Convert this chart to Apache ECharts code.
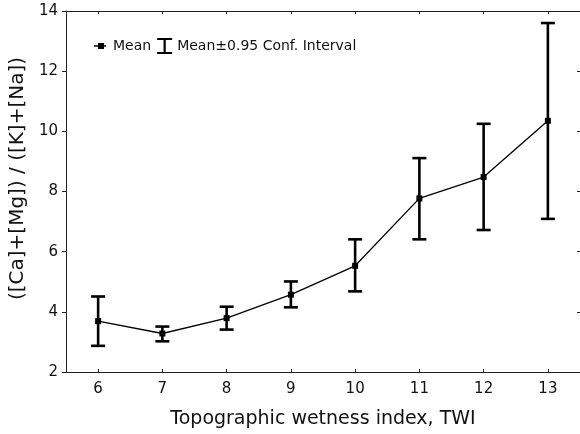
<!DOCTYPE html>
<html>
<head>
<meta charset="utf-8">
<script src="https://cdn.jsdelivr.net/npm/echarts@6/dist/echarts.min.js"></script>
<style>html,body{margin:0;padding:0;background:#fff;}#c{width:580px;height:434px;}</style>
</head>
<body>
<div id="c"></div>
<script>
const categories = ['6', '7', '8', '9', '10', '11', '12', '13'];
const meanValues = [3.69, 3.28, 3.79, 4.57, 5.53, 7.77, 8.48, 10.35];
const upperValues = [4.51, 3.51, 4.17, 5.01, 6.41, 9.11, 10.25, 13.60];
const lowerValues = [2.87, 3.02, 3.41, 4.15, 4.68, 6.41, 6.72, 7.09];
const yTicks = { min: 2, max: 14, interval: 2 };
const meanName = 'Mean';
const ciName = 'Mean±0.95 Conf. Interval';
const xTitle = 'Topographic wetness index, TWI';
const yTitle = '([Ca]+[Mg]) / ([K]+[Na])';

const FONT = 'DejaVu Sans';
const errData = categories.map((c, i) => [i, lowerValues[i], upperValues[i]]);

const chart = echarts.init(document.getElementById('c'), null, { renderer: 'canvas' });
chart.setOption({
  animation: false,
  backgroundColor: '#fff',
  grid: { left: 66, top: 11, width: 515, height: 364, containLabel: false },
  legend: {
    left: 88, top: 33,
    itemWidth: 15, itemHeight: 16, itemGap: 6,
    textStyle: { fontFamily: FONT, fontSize: 14, color: '#111' },
    itemStyle: { color: '#000', borderWidth: 0 },
    lineStyle: { width: 0 },
    data: [
      { name: meanName, icon: 'path://M0,0M15,16M1,7.3H5V5H11V11H5V8.7H1ZM11,7.3H13V8.7H11Z' },
      { name: ciName, icon: 'path://M0,0H15V2H8.6V14H15V16H0V14H6.4V2H0Z' }
    ]
  },
  xAxis: [{
    type: 'category', data: categories, position: 'bottom',
    boundaryGap: true,
    axisLine: { show: true, lineStyle: { color: '#222', width: 1 } },
    axisTick: { show: true, inside: true, length: 3, alignWithLabel: true, lineStyle: { color: '#222' } },
    axisLabel: { fontFamily: FONT, fontSize: 15, color: '#111', margin: 10 },
    splitLine: { show: false },
    name: xTitle, nameLocation: 'middle', nameGap: 38,
    nameTextStyle: { fontFamily: FONT, fontSize: 19, color: '#111' }
  }, {
    type: 'category', data: categories, position: 'top',
    boundaryGap: true,
    axisLine: { show: true, lineStyle: { color: '#222', width: 1 } },
    axisTick: { show: true, inside: true, length: 3, alignWithLabel: true, lineStyle: { color: '#222' } },
    axisLabel: { show: false }, splitLine: { show: false }
  }],
  yAxis: [{
    type: 'value', min: yTicks.min, max: yTicks.max, interval: yTicks.interval, position: 'left',
    axisLine: { show: true, lineStyle: { color: '#222', width: 1 } },
    axisTick: { show: true, inside: false, length: 4, lineStyle: { color: '#222' } },
    axisLabel: { fontFamily: FONT, fontSize: 15, color: '#111', margin: 8 },
    splitLine: { show: false },
    name: yTitle, nameLocation: 'middle', nameGap: 35,
    nameTextStyle: { fontFamily: FONT, fontSize: 20, color: '#111', padding: [0, 0, 0, 26] }
  }, {
    type: 'value', min: yTicks.min, max: yTicks.max, interval: yTicks.interval, position: 'right',
    axisLine: { show: true, lineStyle: { color: '#222', width: 1 } },
    axisTick: { show: true, inside: true, length: 3, lineStyle: { color: '#222' } },
    axisLabel: { show: false }, splitLine: { show: false }
  }],
  series: [{
    name: ciName,
    type: 'custom',
    xAxisIndex: 0, yAxisIndex: 0,
    color: '#000',
    data: errData,
    encode: { x: 0, y: [1, 2] },
    z: 2,
    renderItem: function (params, api) {
      const idx = api.value(0);
      const top = api.coord([idx, api.value(2)]);
      const bot = api.coord([idx, api.value(1)]);
      const hw = 7;
      const st = { stroke: '#000', lineWidth: 2.6, fill: null };
      return {
        type: 'group',
        children: [
          { type: 'line', shape: { x1: top[0], y1: top[1], x2: bot[0], y2: bot[1] }, style: st },
          { type: 'line', shape: { x1: top[0] - hw, y1: top[1], x2: top[0] + hw, y2: top[1] }, style: st },
          { type: 'line', shape: { x1: bot[0] - hw, y1: bot[1], x2: bot[0] + hw, y2: bot[1] }, style: st }
        ]
      };
    }
  }, {
    name: meanName,
    type: 'line',
    data: meanValues,
    color: '#000',
    symbol: 'rect', symbolSize: 6,
    lineStyle: { color: '#000', width: 1.3 },
    itemStyle: { color: '#000' },
    z: 3
  }]
});
</script>
</body>
</html>
